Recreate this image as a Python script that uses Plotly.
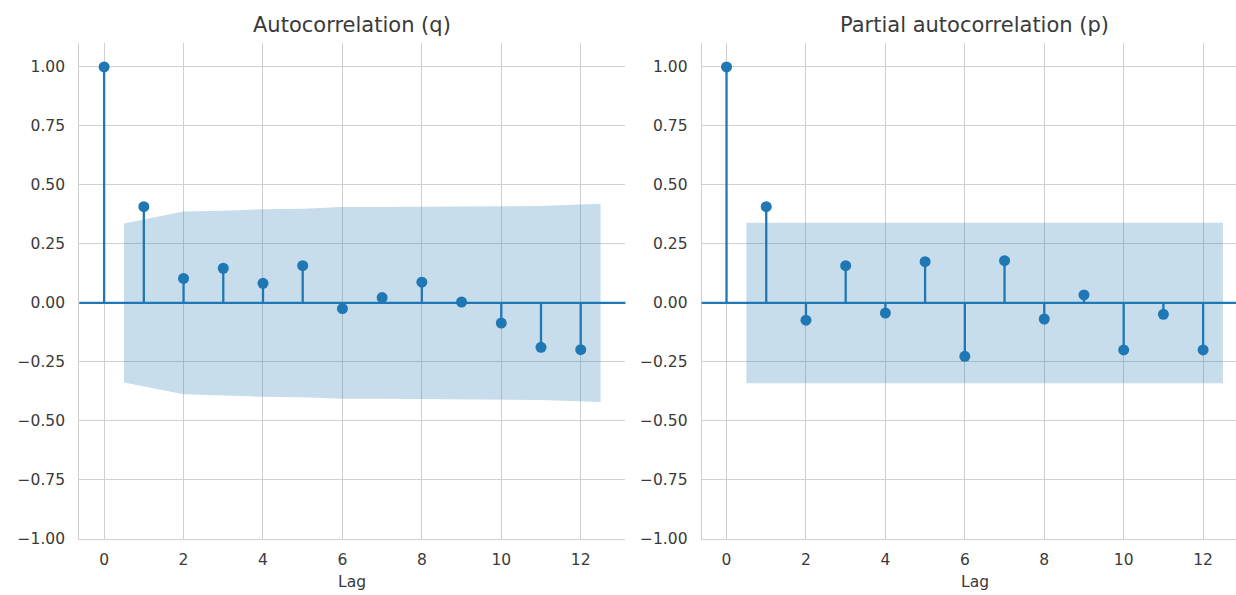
import plotly.graph_objects as go

# Lags and correlation estimates
lags = list(range(13))
acf_vals = [1.00, 0.408, 0.104, 0.147, 0.083, 0.158, -0.024, 0.023, 0.088, 0.004, -0.085, -0.188, -0.198]
pacf_vals = [1.00, 0.408, -0.073, 0.158, -0.043, 0.175, -0.226, 0.179, -0.068, 0.034, -0.199, -0.048, -0.199]

# 95% confidence half-widths for lags 1..12
acf_conf = [0.337, 0.387, 0.391, 0.397, 0.399, 0.406, 0.406, 0.407, 0.409, 0.409, 0.411, 0.420]
pacf_conf = [0.340] * 12
band_x = [0.5, 2, 3, 4, 5, 6, 7, 8, 9, 10, 11, 12.5]

x_ticks = [0, 2, 4, 6, 8, 10, 12]
y_ticks = [-1.0, -0.75, -0.5, -0.25, 0.0, 0.25, 0.5, 0.75, 1.0]
y_ticktext = ["\u22121.00", "\u22120.75", "\u22120.50", "\u22120.25", "0.00", "0.25", "0.50", "0.75", "1.00"]

titles = ["Autocorrelation (q)", "Partial autocorrelation (p)"]

BLUE = "#1f77b4"
BAND = "rgba(31,119,180,0.25)"
GRID = "#d0d0d0"
TEXT = "#3a3a3a"
FONT = "DejaVu Sans"

W, H = 1236, 595
ax_top, ax_bottom = 43.3, 539.0
left_ax = (79.3, 625.4)
right_ax = (701.7, 1247.8)

fig = go.Figure()


def add_panel(vals, conf, xa, ya):
    # confidence band
    fig.add_trace(go.Scatter(
        x=band_x + band_x[::-1],
        y=conf + [-c for c in conf[::-1]],
        fill="toself", fillcolor=BAND, line=dict(width=0),
        mode="lines", hoverinfo="skip", showlegend=False,
        xaxis=xa, yaxis=ya))
    # stems
    sx, sy = [], []
    for k, v in zip(lags, vals):
        sx += [k, k, None]
        sy += [0, v, None]
    fig.add_trace(go.Scatter(
        x=sx, y=sy, mode="lines", line=dict(color=BLUE, width=2.3),
        hoverinfo="skip", showlegend=False, xaxis=xa, yaxis=ya))
    # markers
    fig.add_trace(go.Scatter(
        x=lags, y=vals, mode="markers",
        marker=dict(color=BLUE, size=11, line=dict(width=0)),
        showlegend=False, xaxis=xa, yaxis=ya))


add_panel(acf_vals, acf_conf, "x", "y")
add_panel(pacf_vals, pacf_conf, "x2", "y2")

y_dom = [1 - ax_bottom / H, 1 - ax_top / H]
axis_font = dict(family=FONT, size=15.5, color=TEXT)

common_x = dict(
    tickvals=x_ticks, showgrid=True, gridcolor=GRID, gridwidth=1.2,
    zeroline=False, showline=True, linecolor=GRID, linewidth=1.2,
    ticks="", tickfont=axis_font, ticklabelstandoff=6, fixedrange=True,
    automargin=False)
common_y = dict(
    tickvals=y_ticks, ticktext=y_ticktext, range=[-1.0, 1.1],
    showgrid=True, gridcolor=GRID, gridwidth=1.2, zeroline=False,
    showline=True, linecolor=GRID, linewidth=1.2, ticks="",
    tickfont=axis_font, ticklabelstandoff=10, domain=y_dom, fixedrange=True,
    automargin=False)

right_span = 13.75 * (W - right_ax[0]) / (right_ax[1] - right_ax[0])

fig.update_layout(
    width=W, height=H,
    margin=dict(l=0, r=0, t=0, b=0, autoexpand=False),
    paper_bgcolor="white", plot_bgcolor="white",
    font=dict(family=FONT, color=TEXT),
    xaxis=dict(common_x, domain=[left_ax[0] / W, left_ax[1] / W],
               range=[-0.625, 13.125], anchor="y"),
    yaxis=dict(common_y, anchor="x"),
    xaxis2=dict(common_x, domain=[right_ax[0] / W, 1.0],
                range=[-0.625, -0.625 + right_span], anchor="y2"),
    yaxis2=dict(common_y, anchor="x2"),
    showlegend=False,
)

# zero reference lines across each panel
for xa, ya in (("x", "y"), ("x2", "y2")):
    fig.add_shape(type="line", xref=f"{xa} domain", yref=ya,
                  x0=0, x1=1, y0=0, y1=0,
                  line=dict(color=BLUE, width=2.2), layer="above")

# panel titles and axis labels
for (x0, x1), t in zip((left_ax, right_ax), titles):
    cx = (x0 + x1) / 2 / W
    fig.add_annotation(text=t, x=cx, y=1 - 25 / H, xref="paper", yref="paper",
                       xanchor="center", yanchor="middle", showarrow=False,
                       font=dict(family=FONT, size=21, color=TEXT))
    fig.add_annotation(text="Lag", x=cx, y=1 - 582 / H, xref="paper", yref="paper",
                       xanchor="center", yanchor="middle", showarrow=False,
                       font=dict(family=FONT, size=15.5, color=TEXT))

fig.write_html("out.html")
